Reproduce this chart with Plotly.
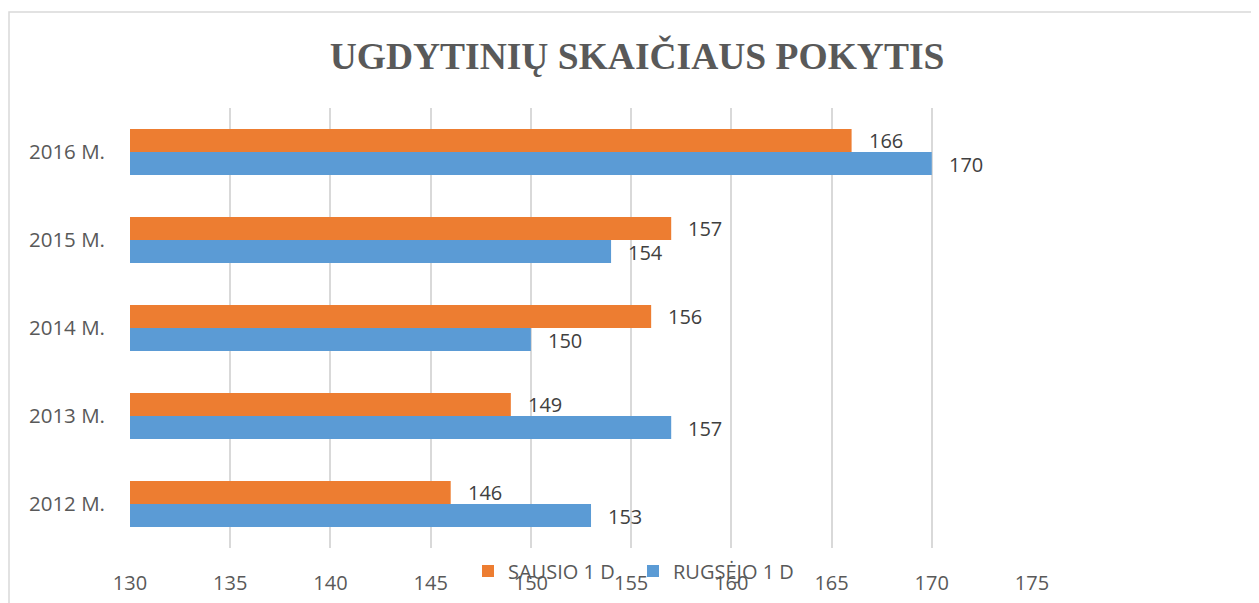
import plotly.graph_objects as go

categories = ["2012 M.", "2013 M.", "2014 M.", "2015 M.", "2016 M."]
sausio = [146, 149, 156, 157, 166]
rugsejo = [153, 157, 150, 154, 170]
series_names = ["SAUSIO 1 D", "RUGSĖJO 1 D"]
title_text = "UGDYTINIŲ SKAIČIAUS POKYTIS"
x_ticks = [130, 135, 140, 145, 150, 155, 160, 165, 170, 175]

# page body has an 8px default margin
OFF = 8
W, H = 1259 - OFF, 603 - OFF
ML, MT = 130 - OFF, 108 - OFF
PW, PH = 902, 440
MR, MB = W - ML - PW, H - MT - PH

ORANGE = "#ED7D31"
BLUE = "#5B9BD5"
FONT = "Open Sans"

fig = go.Figure()
fig.add_trace(go.Bar(y=categories, x=rugsejo, orientation="h", name=series_names[1],
                     marker=dict(color=BLUE, line=dict(width=0))))
fig.add_trace(go.Bar(y=categories, x=sausio, orientation="h", name=series_names[0],
                     marker=dict(color=ORANGE, line=dict(width=0))))

annotations = []
for vals, shift in ((sausio, 11.5), (rugsejo, -12)):
    for c, v in zip(categories, vals):
        annotations.append(dict(x=v, y=c, xref="x", yref="y", text=str(v), showarrow=False,
                                xanchor="left", yanchor="middle", xshift=15, yshift=shift,
                                font=dict(family=FONT, size=20, color="#404040")))


def px_x(s):
    return (s - OFF - ML) / PW


def px_y(s):
    return (MT + PH - (s - OFF)) / PH


fig.update_layout(
    width=W, height=H,
    margin=dict(l=ML, r=MR, t=MT, b=MB, autoexpand=False),
    paper_bgcolor="white", plot_bgcolor="white",
    barmode="group", bargap=0.48, bargroupgap=0,
    title=dict(text="<b>" + title_text + "</b>", x=px_x(637), xref="paper", xanchor="center",
               y=1 - (56 - OFF) / H, yanchor="middle",
               font=dict(family="Liberation Serif", size=37.5, color="#595959")),
    xaxis=dict(range=[130, 175], tickvals=x_ticks, showgrid=True, gridcolor="#d9d9d9", gridwidth=2,
               zeroline=False, showline=False, ticks="", ticklabelstandoff=21, automargin=False,
               tickfont=dict(family=FONT, size=20, color="#595959")),
    yaxis=dict(categoryorder="array", categoryarray=categories, showgrid=False, zeroline=False,
               showline=False, ticks="", ticklabelstandoff=24, automargin=False,
               tickfont=dict(family=FONT, size=20.5, color="#595959")),
    legend=dict(orientation="h", traceorder="reversed", x=px_x(468), xanchor="left",
                y=px_y(571), yanchor="middle", bgcolor="rgba(0,0,0,0)",
                font=dict(family=FONT, size=20, color="#595959"),
                entrywidth=120, entrywidthmode="pixels"),
    annotations=annotations,
    shapes=[dict(type="rect", xref="paper", yref="paper",
                 x0=px_x(9), x1=px_x(1290), y0=px_y(640), y1=px_y(12),
                 line=dict(color="#d9d9d9", width=1.5), fillcolor="rgba(0,0,0,0)", layer="below")],
    showlegend=True,
)

fig.write_html("out.html")
